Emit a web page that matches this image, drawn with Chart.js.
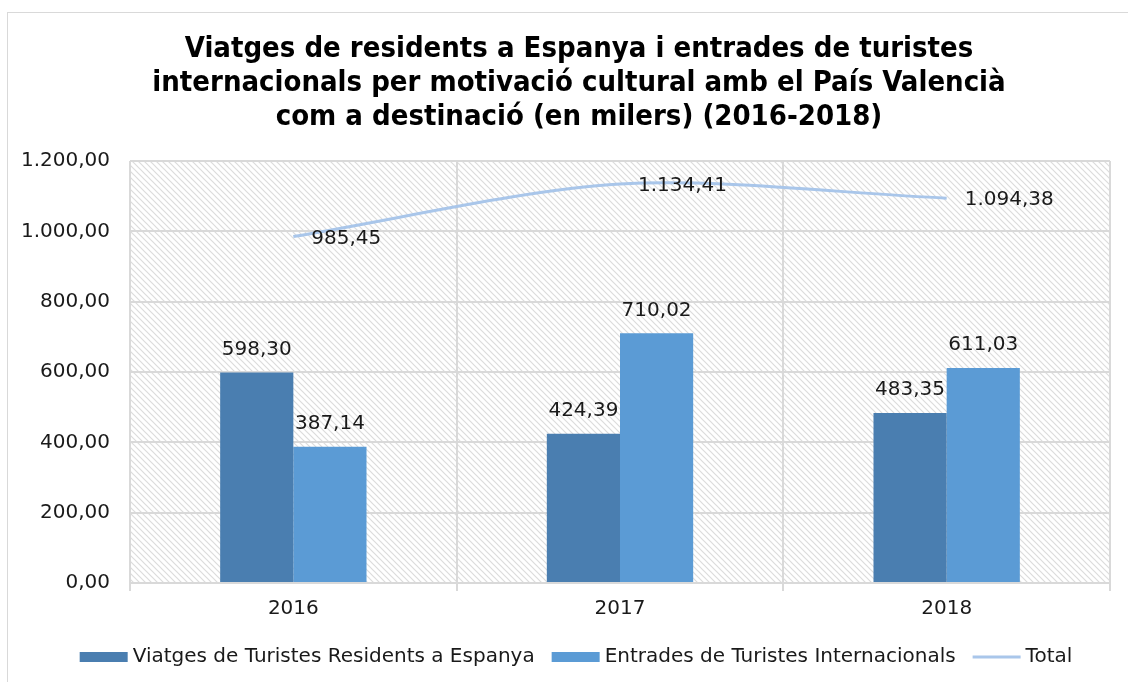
<!DOCTYPE html>
<html><head><meta charset="utf-8">
<script src="https://cdn.jsdelivr.net/npm/chart.js@4.4.1/dist/chart.umd.min.js"></script>
<style>
html,body{margin:0;padding:0;background:#fff;overflow:hidden;}
#frame{position:absolute;left:7px;top:12px;width:1140px;height:700px;border:1px solid #d9d9d9;}
#wrap{position:absolute;left:8px;top:13px;width:1120px;height:669px;}
</style></head><body>
<div id="frame"></div>
<div id="wrap"><canvas id="c" width="1120" height="669"></canvas></div>
<script>
const categories = ['2016', '2017', '2018'];
const residents = [598.30, 424.39, 483.35];
const internacionals = [387.14, 710.02, 611.03];
const totals = [985.45, 1134.41, 1094.38];
const seriesNames = ['Viatges de Turistes Residents a Espanya', 'Entrades de Turistes Internacionals', 'Total'];
const titleLines = [
  'Viatges de residents a Espanya i entrades de turistes',
  'internacionals per motivació cultural amb el País Valencià',
  'com a destinació (en milers) (2016-2018)'
];
const yMin = 0, yMax = 1200, yStep = 200;

const FONT = '"DejaVu Sans", sans-serif';
const TFONT = '"DejaVu Sans Condensed", "DejaVu Sans", sans-serif';
const C_DARK = '#4a7eb0';
const C_LIGHT = '#5b9bd5';
const C_LINE = '#a9c6ea';
const C_TEXT = '#1a1a1a';
const C_GRID = '#d9d9d9';

function fmt(v) {
  const s = v.toFixed(2);
  let [i, d] = s.split('.');
  i = i.replace(/\B(?=(\d{3})+(?!\d))/g, '.');
  return i + ',' + d;
}

function makePattern(ctx) {
  const p = document.createElement('canvas');
  const n = 6;
  p.width = n; p.height = n;
  const g = p.getContext('2d');
  g.fillStyle = '#ffffff';
  g.fillRect(0, 0, n, n);
  g.strokeStyle = '#dcdcdc';
  g.lineWidth = 1.2;
  g.beginPath();
  g.moveTo(-1, -1); g.lineTo(n + 1, n + 1);
  g.moveTo(-1, n - 1); g.lineTo(1, n + 1);
  g.moveTo(n - 1, -1); g.lineTo(n + 1, 1);
  g.stroke();
  return ctx.createPattern(p, 'repeat');
}

const bgPlugin = {
  id: 'hatchBg',
  beforeDraw(chart) {
    const { ctx, chartArea: a } = chart;
    ctx.save();
    ctx.fillStyle = makePattern(ctx);
    ctx.fillRect(a.left, a.top, a.right - a.left, a.bottom - a.top);
    ctx.restore();
  }
};

const titlePlugin = {
  id: 'customTitle',
  afterDraw(chart) {
    const ctx = chart.ctx;
    ctx.save();
    ctx.font = 'bold 29px ' + TFONT;
    ctx.fillStyle = '#000';
    ctx.textAlign = 'center';
    ctx.textBaseline = 'middle';
    titleLines.forEach((t, i) => ctx.fillText(t, 571, 36 + i * 34));
    ctx.restore();
  }
};

const labelPlugin = {
  id: 'valueLabels',
  afterDatasetsDraw(chart) {
    const ctx = chart.ctx;
    ctx.save();
    ctx.font = '20px ' + FONT;
    ctx.fillStyle = C_TEXT;
    chart.data.datasets.forEach((ds, di) => {
      const meta = chart.getDatasetMeta(di);
      meta.data.forEach((el, i) => {
        const t = fmt(ds.data[i]);
        ctx.textBaseline = 'middle';
        if (ds.type === 'line') {
          ctx.textAlign = 'left';
          ctx.fillText(t, el.x + 18, el.y + 2);
        } else {
          ctx.textAlign = 'center';
          ctx.fillText(t, el.x, el.y - 23);
        }
      });
    });
    ctx.restore();
  }
};

const legendPlugin = {
  id: 'customLegend',
  afterDraw(chart) {
    const ctx = chart.ctx;
    ctx.save();
    ctx.font = '20px ' + FONT;
    const sw = 48, gapT = 5, gapItem = 17;
    const widths = seriesNames.map(n => ctx.measureText(n).width);
    let total = 0;
    widths.forEach((w, i) => { total += sw + gapT + w + (i < widths.length - 1 ? gapItem : 0); });
    let x = 568 - total / 2;
    const y = 644;
    const cols = [C_DARK, C_LIGHT, C_LINE];
    seriesNames.forEach((n, i) => {
      if (i < 2) {
        ctx.fillStyle = cols[i];
        ctx.fillRect(x, y - 5, sw, 10);
      } else {
        ctx.strokeStyle = cols[i];
        ctx.lineWidth = 3;
        ctx.beginPath(); ctx.moveTo(x, y); ctx.lineTo(x + sw, y); ctx.stroke();
      }
      ctx.fillStyle = C_TEXT;
      ctx.textAlign = 'left';
      ctx.textBaseline = 'middle';
      ctx.fillText(n, x + sw + gapT, y);
      x += sw + gapT + widths[i] + gapItem;
    });
    ctx.restore();
  }
};

new Chart(document.getElementById('c'), {
  data: {
    labels: categories,
    datasets: [
      { type: 'line', label: seriesNames[2], data: totals, borderColor: C_LINE, backgroundColor: C_LINE,
        borderWidth: 3, pointRadius: 0, tension: 0.3, order: 0 },
      { type: 'bar', label: seriesNames[0], data: residents, backgroundColor: C_DARK, order: 1,
        categoryPercentage: 0.448, barPercentage: 1.0 },
      { type: 'bar', label: seriesNames[1], data: internacionals, backgroundColor: C_LIGHT, order: 1,
        categoryPercentage: 0.448, barPercentage: 1.0 }
    ]
  },
  options: {
    responsive: false,
    animation: false,
    layout: { padding: { left: 0, right: 18, top: 148, bottom: 0 } },
    plugins: {
      legend: { display: false },
      tooltip: { enabled: false },
      title: { display: false }
    },
    scales: {
      x: {
        offset: true,
        grid: { display: true, offset: true, color: C_GRID, lineWidth: 2, tickLength: 8, drawTicks: true },
        border: { display: true, color: C_GRID, width: 2 },
        ticks: { color: C_TEXT, font: { family: FONT, size: 20 }, padding: 6 },
        afterFit(s) { s.height = 99; }
      },
      y: {
        min: yMin, max: yMax,
        grid: { color: C_GRID, lineWidth: 2, drawTicks: false },
        border: { display: false },
        ticks: { stepSize: yStep, color: C_TEXT, font: { family: FONT, size: 20 }, padding: 20,
          callback: v => fmt(v) },
        afterFit(s) { s.width = 122; }
      }
    }
  },
  plugins: [bgPlugin, labelPlugin, legendPlugin, titlePlugin]
});
</script>
</body></html>
